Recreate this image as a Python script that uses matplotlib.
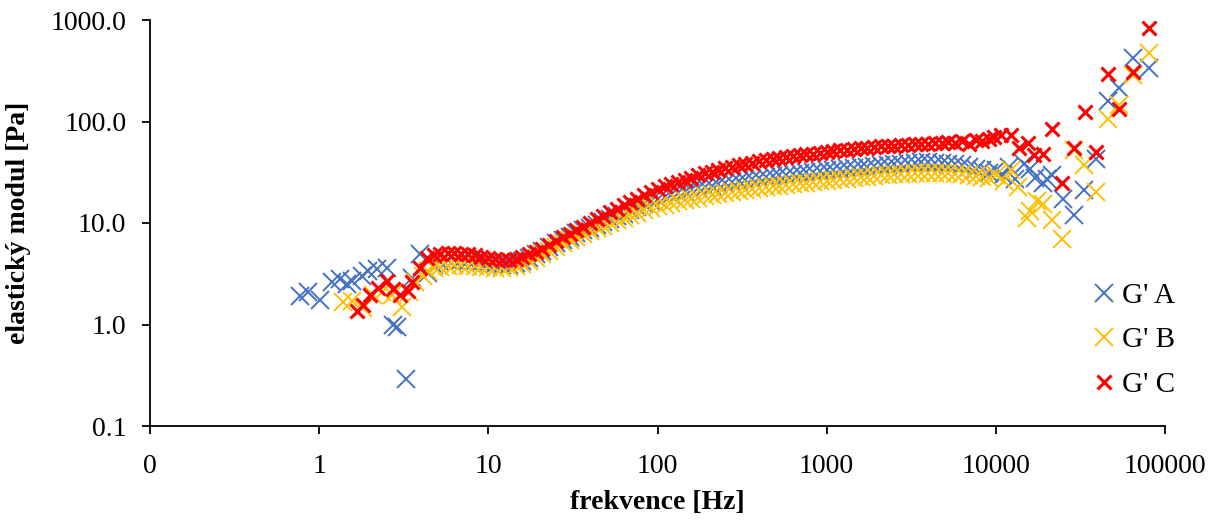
import matplotlib
matplotlib.use("Agg")
import matplotlib.pyplot as plt
from matplotlib.ticker import FixedLocator, FixedFormatter, NullLocator

plt.rcParams['font.family'] = ['Liberation Serif', 'DejaVu Serif']

# ---- data ----
# low-frequency scattered points
a_low_f = [0.77, 0.86, 1.01, 1.19, 1.33, 1.46, 1.57, 1.80, 1.95, 2.2, 2.52, 2.75, 2.9, 3.27, 3.55, 3.96, 4.4]
a_low_g = [1.9, 2.1, 1.75, 2.6, 2.8, 2.5, 2.7, 3.0, 3.4, 3.5, 3.6, 1.0, 0.95, 0.29, 2.9, 5.0, 3.2]
b_low_f = [1.39, 1.57, 1.82, 2.09, 2.36, 2.7, 3.1, 3.4, 3.7, 4.1, 4.4]
b_low_g = [1.65, 1.72, 1.45, 1.95, 2.1, 1.95, 1.5, 2.1, 2.6, 3.0, 3.4]
c_low_f = [1.68, 1.82, 2.0, 2.23, 2.52, 2.74, 3.0, 3.36, 3.55, 3.96, 4.35]
c_low_g = [1.37, 1.55, 1.95, 2.3, 2.7, 2.25, 1.95, 2.15, 2.6, 3.6, 4.5]

# dense shared frequency grid [Hz]
freq = [4.8, 5.2, 5.8, 6.3, 6.9, 7.6, 8.3, 9.1,
        10, 11, 12, 13.2, 14.5, 15.8, 17.4, 19.1, 20.9, 22.9, 25.1, 27.5, 30.2, 33.1, 36.3,
        39.8, 43.7, 47.9, 52.5, 57.5, 63.1, 69.2, 75.9, 83.2, 91.2,
        100, 110, 120, 132, 145, 158, 174, 191, 209, 229, 251, 275, 302, 331, 363,
        398, 437, 479, 525, 575, 631, 692, 759, 832, 912,
        1000, 1096, 1202, 1318, 1445, 1585, 1738, 1905, 2089, 2291, 2512, 2754, 3020, 3311,
        3631, 3981, 4365, 4786, 5248, 5754, 6310, 6918, 7586, 8318, 9120]
g_a = [3.9, 4.1, 4.3, 4.3, 4.3, 4.25, 4.2, 4.1,
       4.0, 3.95, 3.9, 3.9, 4.0, 4.2, 4.5, 4.9, 5.3, 5.8, 6.3, 6.8, 7.3, 7.9, 8.5,
       9.0, 9.6, 10.2, 10.9, 11.6, 12.4, 13.3, 14.3, 15.3, 16.3,
       17.2, 18.0, 18.8, 19.6, 20.4, 21.1, 21.9, 22.6, 23.3, 24.0, 24.7, 25.4, 26.0, 26.7, 27.3,
       27.9, 28.5, 29.0, 29.5, 30.0, 30.5, 31.0, 31.5, 32.0, 32.5,
       33.0, 33.5, 34.0, 34.5, 35.0, 35.5, 36.0, 36.5, 37.0, 37.5, 38.0, 38.5, 39.0, 39.3,
       39.5, 39.5, 39.3, 39.0, 38.5, 38.0, 37.0, 36.0, 34.0, 33.0, 31.0]
g_b = [3.6, 3.7, 3.8, 3.85, 3.85, 3.8, 3.75, 3.7,
       3.65, 3.6, 3.6, 3.65, 3.75, 3.95, 4.2, 4.55, 4.9, 5.3, 5.8, 6.3, 6.8, 7.3, 7.8,
       8.4, 8.9, 9.4, 10.0, 10.6, 11.2, 11.9, 12.6, 13.3, 14.0,
       14.6, 15.2, 15.8, 16.3, 16.8, 17.3, 17.8, 18.3, 18.8, 19.3, 19.8, 20.3, 20.8, 21.3, 21.8,
       22.2, 22.6, 23.0, 23.4, 23.8, 24.2, 24.6, 25.0, 25.4, 25.8,
       26.2, 26.6, 27.0, 27.4, 27.8, 28.2, 28.6, 29.0, 29.4, 29.8, 30.1, 30.4, 30.7, 31.0,
       31.2, 31.3, 31.3, 31.2, 31.0, 30.7, 30.3, 29.8, 29.0, 28.5, 27.5]
g_c = [4.8, 5.0, 5.1, 5.1, 5.0, 4.9, 4.8, 4.6,
       4.5, 4.4, 4.35, 4.35, 4.4, 4.6, 4.9, 5.2, 5.6, 6.1, 6.6, 7.2, 7.8, 8.5, 9.2,
       10.0, 10.9, 11.8, 12.8, 13.8, 14.9, 16.0, 17.4, 18.8, 20.2,
       21.5, 23.0, 24.3, 25.5, 26.8, 28.0, 29.5, 30.8, 32.0, 33.3, 34.5, 35.7, 37.0, 38.2, 39.3,
       40.5, 41.5, 42.5, 43.5, 44.5, 45.5, 46.5, 47.4, 48.3, 49.2,
       50.0, 51.0, 52.0, 52.8, 53.5, 54.5, 55.3, 56.0, 56.8, 57.5, 58.0, 58.5, 59.0, 59.5,
       60.0, 60.5, 61.5, 61.0, 63.0, 62.0, 64.0, 60.0, 66.0, 64.0, 68.0]

# high-frequency scattered points
a_high_f = [10000, 11000, 12000, 13000, 14600, 16000, 17000, 19000, 20000, 21400, 24900, 29000, 33300, 39000, 46000, 53500, 64600, 80400]
a_high_g = [33, 30, 36, 27, 38, 34, 28, 24.5, 27, 29.4, 17.4, 11.9, 21, 43, 161, 216, 427, 340]
b_high_f = [10000, 11200, 12300, 13600, 15200, 16000, 17500, 19000, 21400, 24600, 29000, 33300, 39000, 46000, 53500, 64600, 80400]
b_high_g = [30, 26, 33, 22.4, 11.3, 13, 16.6, 15.5, 10.6, 6.9, 51.8, 36.9, 20, 107, 144, 285, 468]
c_high_f = [9800, 10700, 12300, 13800, 15500, 16800, 19000, 21400, 24600, 29000, 33600, 39000, 46000, 53500, 64600, 80400]
c_high_g = [70, 73, 73, 55, 62, 46.5, 48, 85, 24.5, 55, 125, 49.5, 297, 134, 304, 825]

labels = ["G' A", "G' B", "G' C"]
colors = ["#4472C4", "#FFC000", "#FF0000"]

series = [
    (a_low_f + freq + a_high_f, a_low_g + g_a + a_high_g),
    (b_low_f + freq + b_high_f, b_low_g + g_b + b_high_g),
    (c_low_f + freq + c_high_f, c_low_g + g_c + c_high_g),
]

fig = plt.figure(figsize=(12.21, 5.21), dpi=100)
ax = fig.add_axes([150/1221, 1-426/521, (1165-150)/1221, (426-20)/521])

styles = [dict(ms=12.5, mew=1.4), dict(ms=12.5, mew=1.4), dict(ms=9.5, mew=2.2)]
for (xs, ys), lab, col, st in zip(series, labels, colors, styles):
    ax.plot(xs, ys, linestyle='none', marker='x', color=col, label=lab,
            markersize=st['ms'], markeredgewidth=st['mew'])

ax.set_xscale('log')
ax.set_yscale('log')
ax.set_xlim(0.1, 100000)
ax.set_ylim(0.1, 1000)

xt = [0.1, 1, 10, 100, 1000, 10000, 100000]
xtl = ["0", "1", "10", "100", "1000", "10000", "100000"]
yt = [0.1, 1, 10, 100, 1000]
ytl = ["0.1", "1.0", "10.0", "100.0", "1000.0"]
ax.xaxis.set_major_locator(FixedLocator(xt))
ax.xaxis.set_major_formatter(FixedFormatter(xtl))
ax.yaxis.set_major_locator(FixedLocator(yt))
ax.yaxis.set_major_formatter(FixedFormatter(ytl))
ax.xaxis.set_minor_locator(NullLocator())
ax.yaxis.set_minor_locator(NullLocator())

for s in ['top', 'right']:
    ax.spines[s].set_visible(False)
for s in ['left', 'bottom']:
    ax.spines[s].set_linewidth(1.3)
    ax.spines[s].set_color('black')
ax.tick_params(axis='both', direction='out', length=6, width=1.3, labelsize=20, colors='black')
ax.tick_params(axis='x', pad=14)
ax.tick_params(axis='y', pad=11)

ax.set_xlabel('frekvence [Hz]', fontsize=20, fontweight='bold', labelpad=8)
ax.set_ylabel('elastický modul [Pa]', fontsize=20, fontweight='bold', labelpad=14)

leg = ax.legend(loc='center left', bbox_to_anchor=(1081/1221, 1-340/521), bbox_transform=fig.transFigure,
                frameon=False, fontsize=21, handlelength=0.6, handletextpad=0.3,
                labelspacing=0.62, borderpad=0, markerscale=1.0)

fig.savefig('out.png', dpi=100)
